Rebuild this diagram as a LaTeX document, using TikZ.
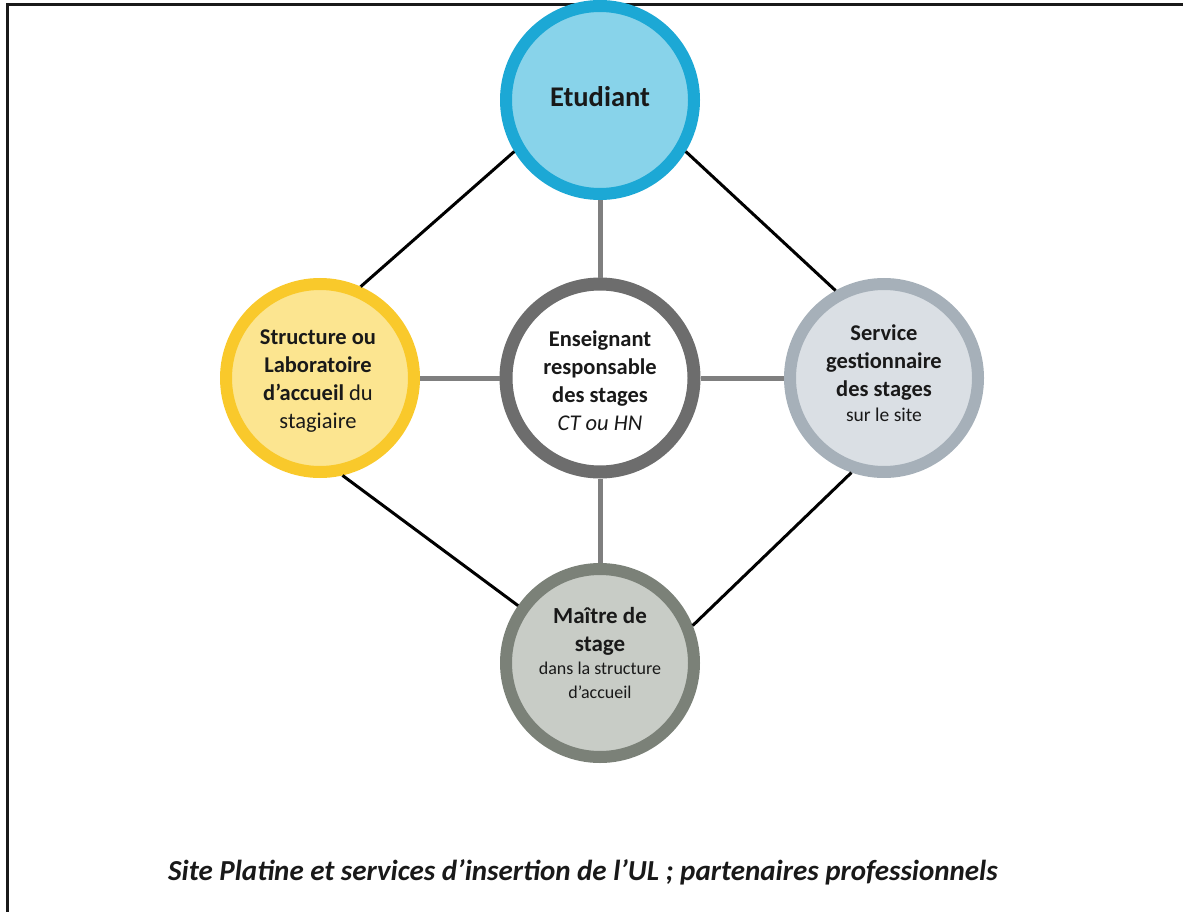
\documentclass[tikz,border=0pt]{standalone}
\usepackage{fontspec}
\setmainfont{Carlito}
\definecolor{etufill}{HTML}{88D3EA}
\definecolor{etuline}{HTML}{1CA8D5}
\definecolor{strfill}{HTML}{FCE590}
\definecolor{strline}{HTML}{F9C92B}
\definecolor{cenline}{HTML}{6D6D6D}
\definecolor{serfill}{HTML}{DADFE4}
\definecolor{serline}{HTML}{A6B0B9}
\definecolor{maifill}{HTML}{C8CCC6}
\definecolor{mailine}{HTML}{7B8178}
\definecolor{graylink}{HTML}{7F7F7F}
\newcommand\subtxt{\fontsize{18}{20}\selectfont\mdseries}
\newcommand\sitetxt{\fontsize{19.5}{25}\selectfont\mdseries}
\tikzset{
  bubble/.style={circle, minimum size=188pt, inner sep=0pt, line width=12pt},
  blacklink/.style={line width=3pt, black},
  greylink/.style={line width=5pt, graylink},
  txt/.style={align=center, text=black!90, inner sep=0pt},
  big/.style={font=\fontsize{22.5}{28}\selectfont},
}
\begin{document}
\begin{tikzpicture}[x=1pt,y=-1pt]
\useasboundingbox (0,0) rectangle (1183,912);
% frame
\draw[line width=3pt, black!90] (7,912) -- (7,5) -- (1183,5);
% circles
\node[bubble, fill=etufill, draw=etuline] (etu) at (600,100) {};
\node[bubble, fill=strfill, draw=strline] (str) at (320,378) {};
\node[bubble, fill=white, draw=cenline, line width=13pt] (cen) at (600,378) {};
\node[bubble, fill=serfill, draw=serline] (ser) at (884,378) {};
\node[bubble, fill=maifill, draw=mailine] (mai) at (600,663) {};
% links
\draw[blacklink] (etu.211) -- (str.66);
\draw[blacklink] (etu.329) -- (ser.119);
\draw[blacklink] (str.283) -- (mai.145);
\draw[blacklink] (ser.251) -- (mai.22);
\draw[greylink] (etu.south) -- (cen.north);
\draw[greylink] (cen.south) -- (mai.north);
\draw[greylink] (str.east) -- (cen.west);
\draw[greylink] (cen.east) -- (ser.west);
% texts
\node[txt, font=\fontsize{28.5}{32}\selectfont\bfseries] (etutxt) at (600,97) {Etudiant};
\node[txt, big] (strtxt) at (318,381) {\textbf{Structure ou}\\\textbf{Laboratoire}\\\textbf{d’accueil} du\\stagiaire};
\node[txt, big] (centxt) at (600,381) {\textbf{Enseignant}\\\textbf{responsable}\\\textbf{des stages}\\\textit{CT ou HN}};
\node[txt, big] (sertxt) at (884,373) {\textbf{Service}\\\textbf{gestionnaire}\\\textbf{des stages}\\[-3pt]\sitetxt sur le site};
\node[txt, anchor=north, font=\fontsize{23}{28}\selectfont\bfseries] (maitxt) at (600,607) {Maître de\\stage\\[-5pt]\subtxt dans la structure\\[-4pt]\subtxt d’accueil};
% caption
\node[txt, font=\fontsize{29}{32}\selectfont\bfseries\itshape] (caption) at (583,872) {Site Platine et services d’insertion de l’UL ; partenaires professionnels};
\end{tikzpicture}
\end{document}
